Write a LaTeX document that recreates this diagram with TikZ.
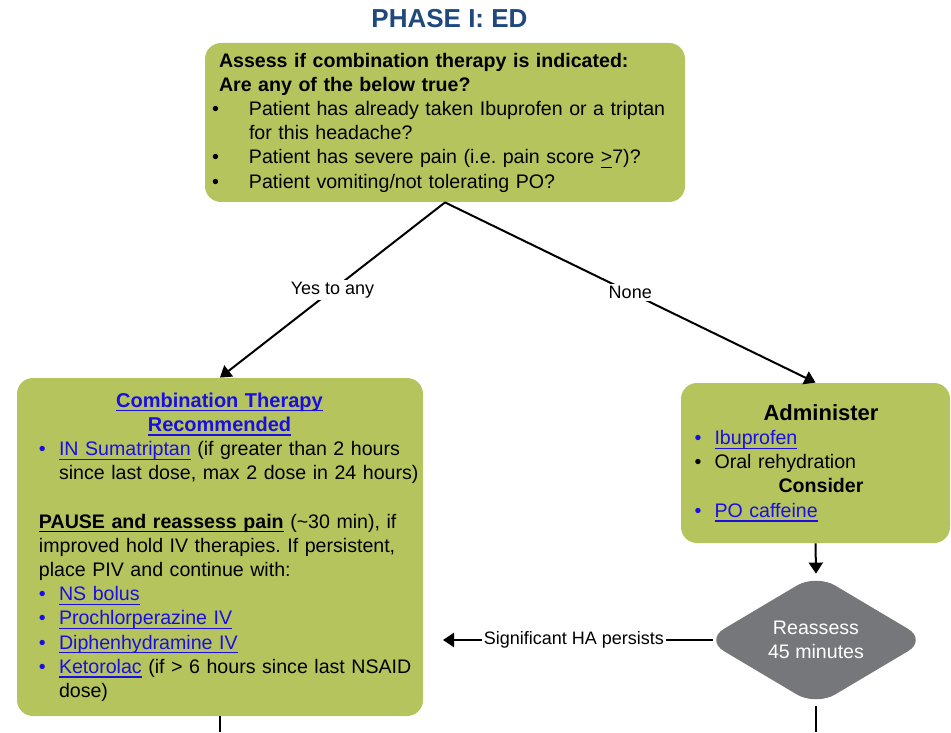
\documentclass[tikz,border=0pt]{standalone}
\usepackage{fontspec}
\setmainfont{Liberation Sans}
\usepackage{tikz}
\usetikzlibrary{positioning,shapes.geometric,arrows.meta}
\frenchspacing
\definecolor{boxgreen}{HTML}{B5C45C}
\definecolor{titleblue}{HTML}{1F497D}
\definecolor{linkblue}{HTML}{1A0DE6}
\definecolor{decgray}{HTML}{76777B}
\newcommand{\undl}[1]{\leavevmode\setbox0=\hbox{#1}\rlap{\rule[-2.2pt]{\wd0}{0.6pt}}\box0\relax}
\newcommand{\linkb}[1]{\textcolor{linkblue}{\undl{#1}}}
\newcommand{\itm}[1][10pt]{\makebox[#1][l]{\textbullet}}
\newcommand{\litm}[1][10pt]{\makebox[#1][l]{\textcolor{linkblue}{\textbullet}}}
\tikzset{greenbox/.style = {rectangle,rounded corners=8pt,fill=boxgreen,inner sep=0pt,align=left,font=\fontsize{9.8}{12.1}\selectfont},
         decision/.style = {diamond,aspect=1.7,rounded corners=11pt,fill=decgray,inner sep=0pt,text=white,align=center,font=\fontsize{9.8}{12}\selectfont},
         flow/.style = {-{Triangle[length=5.5pt,width=7pt]},line width=1pt},
         conn/.style = {line width=1pt},
         elabel/.style = {fill=white,inner sep=1pt,font=\fontsize{9}{10}\selectfont}}

\begin{document}
\begin{tikzpicture}[x=0.5pt,y=-0.5pt]
    \useasboundingbox (0,0) rectangle (951,732);
    \node[font=\fontsize{13}{15}\selectfont\bfseries,text=titleblue] (title) at (449.5,19) {PHASE I: ED};
    \node[greenbox,text width=240pt,minimum height=79.5pt] (assess) at (445,122.5) {\leftskip=3.5pt
        \hspace*{3.5pt}\textbf{Assess if combination therapy is indicated:}\\
        \hspace*{3.5pt}\textbf{Are any of the below true?}\\
        \itm[18.5pt]Patient has already taken Ibuprofen or a triptan\\
        \hspace*{18.5pt}for this headache?\\
        \itm[18.5pt]Patient has severe pain (i.e. pain score \undl{>}7)?\\
        \itm[18.5pt]Patient vomiting/not tolerating PO?\par};
    \node[greenbox,text width=203pt,minimum height=169pt] (combo) at (220,547) {\leftskip=11pt
        \makebox[180.5pt]{\textbf{\fontsize{10}{12.1}\selectfont\linkb{Combination Therapy}}}\\
        \makebox[180.5pt]{\textbf{\fontsize{10}{12.1}\selectfont\linkb{Recommended}}}\\
        \litm\linkb{IN Sumatriptan} (if greater than 2 hours\\
        \hspace*{10pt}since last dose, max 2 dose in 24 hours)\\[12.1pt]
        \textbf{\undl{PAUSE and reassess pain}} (\textasciitilde30 min), if\\
        improved hold IV therapies. If persistent,\\
        place PIV and continue with:\\
        \litm\linkb{NS bolus}\\
        \litm\linkb{Prochlorperazine IV}\\
        \litm\linkb{Diphenhydramine IV}\\
        \litm\linkb{Ketorolac} (if > 6 hours since last NSAID\\
        \hspace*{10pt}dose)\par};
    \node[greenbox,text width=134.5pt,minimum height=80pt] (admin) at (815.5,463) {\leftskip=6.75pt
        \makebox[126.5pt]{\textbf{\fontsize{11}{12.1}\selectfont Administer}}\\
        \litm\linkb{Ibuprofen}\\
        \itm Oral rehydration\\
        \makebox[126.5pt]{\textbf{Consider}}\\
        \litm\linkb{PO caffeine}\par};
    \node[decision,minimum width=111pt,minimum height=66pt] (reassess) at (816,640) {Reassess\\45 minutes};
    \coordinate (persist) at (443,640);
    \coordinate (combodown) at (220,732);
    \coordinate (reassessdown) at (816,732);
    \draw[flow] (assess.south) -- node[elabel] (yeslbl) {Yes to any} (combo.north);
    \draw[flow] (assess.south) -- node[elabel] (nonelbl) {None} (admin.north);
    \draw[flow] (admin.south) -- (reassess.north);
    \draw[flow,shorten <=-4pt] (reassess.west) -- node[elabel] (persistlbl) {Significant HA persists} (persist);
    \draw[conn] (combo.south) -- (combodown);
    \draw[conn] (reassess.south) -- (reassessdown);
\end{tikzpicture}
\end{document}
